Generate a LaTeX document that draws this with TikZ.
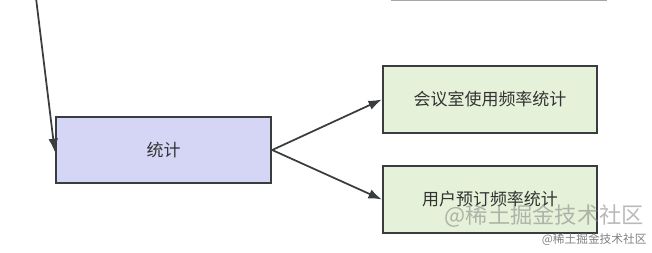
\documentclass[tikz,border=0pt]{standalone}
\usepackage{fontspec}
\setmainfont{Noto Sans CJK SC}
\usepackage{tikz}
\usetikzlibrary{positioning,arrows.meta}
\definecolor{edgegray}{HTML}{3A3D40}
\definecolor{statfill}{HTML}{D5D6F6}
\definecolor{resfill}{HTML}{E5F2D9}
\definecolor{textgray}{HTML}{333333}

\begin{document}
\begin{tikzpicture}[x=0.03cm, y=-0.03cm, >={Latex[length=4mm,width=2.9mm]}, font=\fontsize{14.5}{17}\selectfont]
	\useasboundingbox (0,0) rectangle (652,252);
	\clip (0,0) rectangle (652,252);
	% box cut off at the top edge
	\node[draw=gray!70, line width=1.2pt, minimum width=6.42cm, minimum height=2cm] (prev) at (499,-33) {};
	\coordinate (incoming) at (36,-2);

	\node[draw=edgegray, fill=statfill, line width=2pt, text=textgray, minimum width=6.45cm, minimum height=1.98cm] (stat) at (163.5,150) {统计};
	\node[draw=edgegray, fill=resfill, line width=2pt, text=textgray, minimum width=6.42cm, minimum height=2cm] (roomfreq) at (490,99.5) {会议室使用频率统计};
	\node[draw=edgegray, fill=resfill, line width=2pt, text=textgray, minimum width=6.42cm, minimum height=2cm] (userfreq) at (490,199.5) {用户预订频率统计};

	% arrows
	\draw[->, edgegray, line width=1.5pt] (incoming) -- ([yshift=-0.06cm]stat.west);
	\draw[->, edgegray, line width=1.5pt] (stat.east) -- (roomfreq.west);
	\draw[->, edgegray, line width=1.5pt] (stat.east) -- (userfreq.west);

	% watermarks
	\node[text=gray, opacity=0.55, font=\fontsize{19}{22}\selectfont, anchor=east] (mark) at (648,216) {@稀土掘金技术社区};
	\node[text=gray, font=\fontsize{10}{12}\selectfont, anchor=east, inner sep=1pt] (marksmall) at (648,240) {@稀土掘金技术社区};
\end{tikzpicture}
\end{document}
